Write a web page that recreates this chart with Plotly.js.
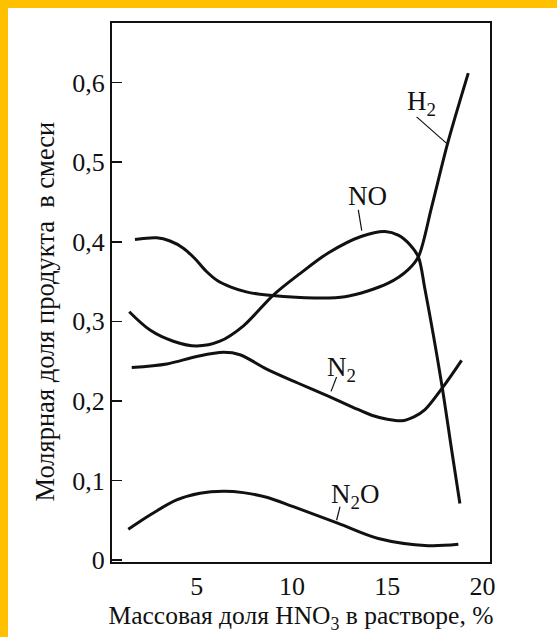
<!DOCTYPE html>
<html>
<head>
<meta charset="utf-8">
<script src="https://cdn.plot.ly/plotly-3.0.1.min.js"></script>
<style>
  html, body { margin:0; padding:0; background:#FFC000; width:557px; height:637px; overflow:hidden; }
  #chart { position:absolute; left:8px; top:8px; width:549px; height:629px; background:#fff; }
</style>
</head>
<body>
<div id="chart"></div>
<script>
// ---- data ----
const xNO  = [1.46, 2.55, 3.77, 5.0, 6.22, 7.44, 9.02, 10.42, 11.9, 13.66, 14.88, 15.6, 16.2, 16.63, 16.98, 17.85, 18.38, 18.81];
const yNO  = [0.312, 0.289, 0.275, 0.269, 0.275, 0.294, 0.333, 0.360, 0.386, 0.407, 0.413, 0.408, 0.396, 0.381, 0.340, 0.222, 0.138, 0.071];

const xH2  = [1.76, 2.9, 3.6, 4.3, 4.9, 5.5, 6.1, 6.8, 7.6, 8.67, 10.42, 12.78, 15.05, 16.1, 16.63, 17.33, 18.17, 19.25];
const yH2  = [0.403, 0.405, 0.401, 0.392, 0.379, 0.363, 0.351, 0.343, 0.337, 0.333, 0.330, 0.331, 0.348, 0.365, 0.381, 0.444, 0.524, 0.612];

const xN2  = [1.59, 3.43, 5.0, 6.4, 7.27, 8.67, 10.3, 11.9, 13.2, 14.18, 15.0, 15.75, 16.4, 16.98, 17.94, 18.9];
const yN2  = [0.242, 0.2465, 0.2558, 0.261, 0.258, 0.240, 0.2225, 0.206, 0.192, 0.182, 0.177, 0.175, 0.180, 0.189, 0.218, 0.251];

const xN2O = [1.41, 2.55, 3.95, 5.17, 6.4, 7.44, 8.67, 10.07, 12.43, 14.53, 17.15, 18.73];
const yN2O = [0.0386, 0.0566, 0.0755, 0.0839, 0.0864, 0.0847, 0.0788, 0.067, 0.046, 0.027, 0.018, 0.0197];

const xTickVals = [5, 10, 15, 20];
const xTickText = ['5', '10', '15', '20'];
const xTickMarks = [5, 10, 15];
const yTickVals = [0, 0.1, 0.2, 0.3, 0.4, 0.5, 0.6];
const yTickText = ['0', '0,1', '0,2', '0,3', '0,4', '0,5', '0,6'];

const seriesNames = ['NO', 'H2', 'N2', 'N2O'];
const labelText = ['NO', 'H<sub>2</sub>', 'N<sub>2</sub>', 'N<sub>2</sub>O'];
// label anchor (data coords) and leader line endpoints
const labelX = [13.97, 16.80, 12.62, 13.30];
const labelY = [0.457, 0.574, 0.240, 0.080];
const leadX0 = [13.48, 16.54, 12.34, 12.52];
const leadY0 = [0.440, 0.557, 0.230, 0.067];
const leadX1 = [13.66, 18.10, 12.05, 12.34];
const leadY1 = [0.414, 0.524, 0.212, 0.050];

const xTitle = 'Массовая доля HNO<sub>3</sub> в растворе, %';
const yTitle = 'Молярная доля продукта\u00A0 в смеси';

// ---- chart ----
const ink = '#111111';
const serif = '"Liberation Serif", "Times New Roman", Times, serif';
const xs = [xNO, xH2, xN2, xN2O];
const ys = [yNO, yH2, yN2, yN2O];

const traces = xs.map((x, i) => ({
  x: x, y: ys[i], name: seriesNames[i], type: 'scatter', mode: 'lines',
  line: { color: ink, width: 3, shape: 'spline', smoothing: 0.9 },
  hoverinfo: 'skip'
}));

const annotations = labelText.map((t, i) => ({
  x: labelX[i], y: labelY[i], xref: 'x', yref: 'y', text: t, showarrow: false,
  font: { family: serif, size: 27, color: ink }
}));
// y-axis title (placed as a rotated annotation to match the reference's offset)
annotations.push({
  x: 0, y: 0.4647, xref: 'paper', yref: 'paper', xanchor: 'center', yanchor: 'middle',
  xshift: -67, textangle: -90, text: yTitle, showarrow: false,
  font: { family: serif, size: 26.5, color: ink }
});

const shapes = labelText.map((t, i) => ({
  type: 'line', xref: 'x', yref: 'y',
  x0: leadX0[i], y0: leadY0[i], x1: leadX1[i], y1: leadY1[i],
  line: { color: ink, width: 1.2 }
}));

const xRange = [0.556, 20.39];
const yRange = [-0.0025, 0.675];

const layout = {
  width: 549, height: 629,
  margin: { l: 104, r: 67, t: 15, b: 75 },
  paper_bgcolor: '#ffffff', plot_bgcolor: '#ffffff',
  font: { family: serif, size: 26, color: ink },
  showlegend: false,
  xaxis: {
    range: xRange, showline: true, mirror: true, linecolor: ink, linewidth: 2,
    showgrid: false, zeroline: false, tickmode: 'array', tickvals: xTickVals, ticktext: xTickText,
    ticks: '', tickfont: { family: serif, size: 26, color: ink },
    title: { text: xTitle, font: { family: serif, size: 25.5, color: ink }, standoff: 4 }
  },
  xaxis2: {
    range: xRange, overlaying: 'x', anchor: 'y', side: 'bottom',
    showline: false, showgrid: false, zeroline: false, showticklabels: false,
    tickmode: 'array', tickvals: xTickMarks, ticks: 'inside', ticklen: 10, tickwidth: 1.5, tickcolor: ink
  },
  yaxis: {
    range: yRange, showline: true, mirror: true, linecolor: ink, linewidth: 2,
    showgrid: false, zeroline: false, tickmode: 'array', tickvals: yTickVals, ticktext: yTickText,
    ticks: 'inside', ticklen: 10, tickwidth: 1.5, tickcolor: ink,
    tickfont: { family: serif, size: 26, color: ink }
  },
  annotations: annotations,
  shapes: shapes
};

Plotly.newPlot('chart', traces, layout, { staticPlot: true, displayModeBar: false });
</script>
</body>
</html>
